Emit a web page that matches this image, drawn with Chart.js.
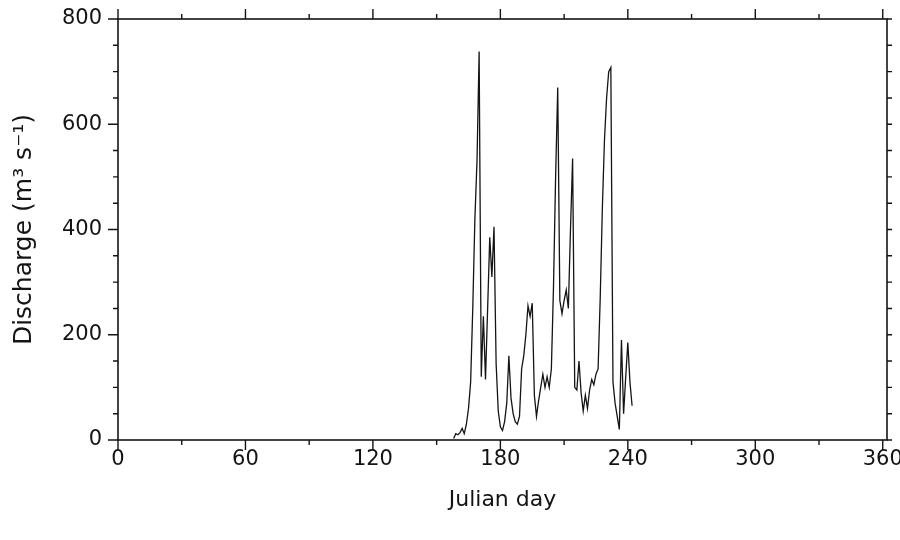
<!DOCTYPE html>
<html>
<head>
<meta charset="utf-8">
<script src="https://cdn.jsdelivr.net/npm/chart.js@4.4.0/dist/chart.umd.min.js"></script>
<style>
    html, body { margin: 0; padding: 0; background: #fff; }
    #wrap { width: 900px; height: 540px; }
</style>
</head>
<body>
<div id="wrap"><canvas id="chart" width="900" height="540"></canvas></div>
<script>
// ---------- DATA ----------
const julianDays = [
    158, 159, 160, 161, 162, 163, 164, 165, 166, 167,
    168, 169, 170, 171, 172, 173, 174, 175, 176, 177,
    178, 179, 180, 181, 182, 183, 184, 185, 186, 187,
    188, 189, 190, 191, 192, 193, 194, 195, 196, 197,
    198, 199, 200, 201, 202, 203, 204, 205, 206, 207,
    208, 209, 210, 211, 212, 213, 214, 215, 216, 217,
    218, 219, 220, 221, 222, 223, 224, 225, 226, 227,
    228, 229, 230, 231, 232, 233, 234, 235, 236, 237,
    238, 239, 240, 241, 242
];
const discharge = [
    3, 12, 10, 14, 22, 12, 30, 60, 110, 250,
    420, 530, 738, 120, 235, 115, 250, 385, 310, 405,
    145, 55, 25, 18, 35, 70, 160, 80, 50, 35,
    30, 45, 135, 160, 200, 255, 235, 260, 85, 45,
    75, 100, 125, 100, 120, 100, 135, 290, 500, 670,
    265, 240, 265, 285, 250, 400, 535, 100, 95, 150,
    90, 55, 85, 60, 95, 115, 105, 125, 135, 270,
    440, 570, 650, 700, 708, 110, 70, 45, 20, 190,
    50, 120, 185, 110, 65
];

const xTickStep = 30;   // minor ticks, labels every 60
const xLabelStep = 60;
const yTickStep = 50;   // minor ticks, labels every 200
const yLabelStep = 200;

const FONT = "'DejaVu Sans', sans-serif";
const INK = '#141414';

// ---------- FRAME + TICKS ----------
// box around the plot with outward ticks on all four sides
const frameTicks = {
    id: 'frameTicks',
    afterDraw(chart) {
        const { ctx, chartArea: a, scales: { x, y } } = chart;
        ctx.save();
        ctx.strokeStyle = INK;
        ctx.lineWidth = 1.4;
        ctx.beginPath();
        x.ticks.forEach(t => {
            const px = x.getPixelForValue(t.value);
            const len = t.value % xLabelStep === 0 ? 10 : 5;
            ctx.moveTo(px, a.bottom); ctx.lineTo(px, a.bottom + len);
            ctx.moveTo(px, a.top); ctx.lineTo(px, a.top - len);
        });
        y.ticks.forEach(t => {
            const py = y.getPixelForValue(t.value);
            const len = t.value % yLabelStep === 0 ? 10 : 5;
            ctx.moveTo(a.left, py); ctx.lineTo(a.left - len, py);
            ctx.moveTo(a.right, py); ctx.lineTo(a.right + 5, py);
        });
        ctx.stroke();
        ctx.lineWidth = 1.6;
        ctx.strokeRect(a.left, a.top, a.right - a.left, a.bottom - a.top);
        ctx.restore();
    }
};

// ---------- CHART ----------
new Chart(document.getElementById('chart'), {
    type: 'line',
    data: {
        datasets: [{
            data: julianDays.map((d, i) => ({ x: d, y: discharge[i] })),
            borderColor: INK,
            borderWidth: 1.3,
            pointRadius: 0,
            tension: 0,
            fill: false
        }]
    },
    options: {
        responsive: false,
        animation: false,
        layout: { padding: { left: 0, top: 19, right: 13, bottom: 0 } },
        plugins: {
            legend: { display: false },
            tooltip: { enabled: false }
        },
        scales: {
            x: {
                type: 'linear',
                min: 0,
                max: 362,
                afterFit: s => {
                    s.height = 100;
                    s.paddingLeft = 0;
                    s.paddingRight = 0;
                },
                afterBuildTicks: s => {
                    s.ticks = [];
                    for (let v = 0; v <= 360; v += xTickStep) s.ticks.push({ value: v });
                },
                ticks: {
                    autoSkip: false,
                    maxRotation: 0,
                    padding: 7,
                    color: INK,
                    font: { family: FONT, size: 21 },
                    callback: v => (v % xLabelStep === 0 ? v : '')
                },
                grid: { display: false, drawTicks: false },
                border: { display: false },
                title: {
                    display: true,
                    text: 'Julian day',
                    color: INK,
                    font: { family: FONT, size: 22 },
                    padding: { top: 0, bottom: 27 }
                }
            },
            y: {
                min: 0,
                max: 800,
                afterFit: s => {
                    s.width = 118;
                    s.paddingTop = 0;
                    s.paddingBottom = 0;
                },
                ticks: {
                    stepSize: yTickStep,
                    autoSkip: false,
                    padding: 16,
                    color: INK,
                    font: { family: FONT, size: 21 },
                    callback: v => (v % yLabelStep === 0 ? v : '')
                },
                grid: { display: false, drawTicks: false },
                border: { display: false },
                title: {
                    display: true,
                    text: 'Discharge (m\u00B3 s\u207B\u00B9)',
                    color: INK,
                    font: { family: FONT, size: 25 },
                    padding: { top: 9, bottom: 0 }
                }
            }
        }
    },
    plugins: [frameTicks]
});
</script>
</body>
</html>
